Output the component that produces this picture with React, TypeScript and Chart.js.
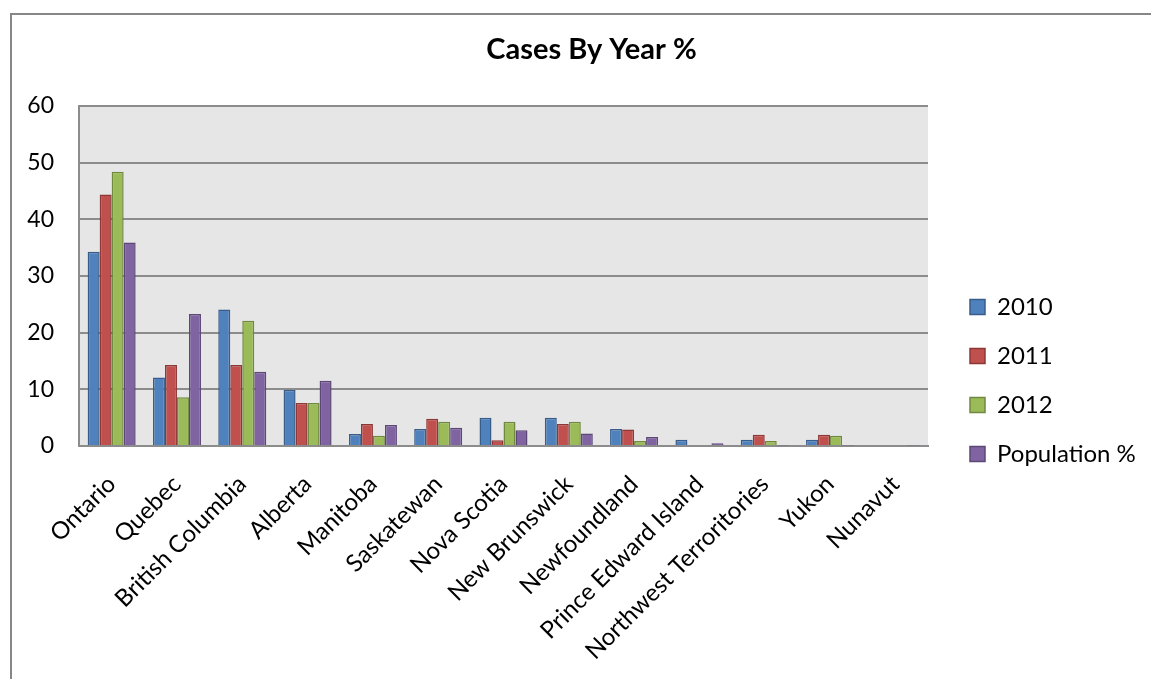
import React, { useEffect, useRef } from "react";
import { Chart, registerables } from "chart.js";

Chart.register(...registerables);

const categories = [
  "Ontario",
  "Quebec",
  "British Columbia",
  "Alberta",
  "Manitoba",
  "Saskatewan",
  "Nova Scotia",
  "New Brunswick",
  "Newfoundland",
  "Prince Edward Island",
  "Northwest Terroritories",
  "Yukon",
  "Nunavut",
];

const cases2010 = [34.3, 12.1, 24.1, 9.9, 2.1, 3.0, 5.0, 5.0, 3.0, 1.1, 1.1, 1.1, 0];
const cases2011 = [44.4, 14.3, 14.3, 7.6, 3.9, 4.8, 1.0, 3.9, 2.9, 0, 2.0, 2.0, 0];
const cases2012 = [48.4, 8.6, 22.1, 7.6, 1.8, 4.3, 4.3, 4.3, 0.9, 0, 0.9, 1.8, 0];
const population = [35.9, 23.3, 13.1, 11.5, 3.7, 3.2, 2.8, 2.2, 1.6, 0.5, 0.1, 0.1, 0.1];

const seriesLabels = ["2010", "2011", "2012", "Population %"];
const yTicks = [0, 10, 20, 30, 40, 50, 60];

const FONT = "Lato, 'Open Sans', sans-serif";
const CANVAS_W = 1183;
const CANVAS_H = 761;

export default function App() {
  const ref = useRef<HTMLCanvasElement | null>(null);

  useEffect(() => {
    if (!ref.current) return;
    const bgPlugin = {
      id: "plotBg",
      beforeDraw(chart: any) {
        const { ctx, chartArea } = chart;
        ctx.save();
        ctx.fillStyle = "#ffffff";
        ctx.fillRect(0, 0, chart.width, chart.height);
        ctx.fillStyle = "#e6e6e6";
        ctx.fillRect(chartArea.left, chartArea.top, chartArea.right - chartArea.left, chartArea.bottom - chartArea.top);
        ctx.restore();
      },
      beforeLayout(chart: any) {
        const lg = chart.legend;
        if (lg && !lg.__wrapped) {
          const orig = lg.fit;
          lg.fit = function () {
            orig.call(this);
            this.width = 238;
          };
          lg.__wrapped = true;
        }
      },
    };

    const chart = new Chart(ref.current, {
      type: "bar",
      data: {
        labels: categories,
        datasets: [
          { label: seriesLabels[0], data: cases2010, backgroundColor: "#4F81BD", borderColor: "#385D8A", borderWidth: 1.5 },
          { label: seriesLabels[1], data: cases2011, backgroundColor: "#C0504D", borderColor: "#8C3836", borderWidth: 1.5 },
          { label: seriesLabels[2], data: cases2012, backgroundColor: "#9BBB59", borderColor: "#71893F", borderWidth: 1.5 },
          { label: seriesLabels[3], data: population, backgroundColor: "#8064A2", borderColor: "#5C4776", borderWidth: 1.5 },
        ],
      },
      options: {
        responsive: false,
        maintainAspectRatio: false,
        animation: false,
        datasets: { bar: { barPercentage: 1, categoryPercentage: 0.735 } },
        layout: { padding: { left: 0, right: 0, top: 0, bottom: 0 } },
        plugins: {
          title: {
            display: true,
            text: "Cases By Year %",
            color: "#000",
            font: { family: FONT, size: 29, weight: "bold", lineHeight: 1.2 },
            padding: { top: 32.6, bottom: 38.6 },
          },
          legend: {
            display: true,
            position: "right",
            align: "center",
            labels: {
              color: "#000",
              font: { family: FONT, size: 24 },
              boxWidth: 15,
              boxHeight: 15,
              padding: 25,
            },
          },
          tooltip: { enabled: false },
        },
        scales: {
          x: {
            grid: { display: false },
            border: { display: true, color: "#8c8c8c", width: 2 },
            ticks: {
              autoSkip: false,
              minRotation: 45,
              maxRotation: 45,
              padding: 16,
              color: "#000",
              font: { family: FONT, size: 24 },
            },
            afterFit(scale: any) {
              scale.height = CANVAS_H - 446;
            },
          },
          y: {
            min: 0,
            max: 60,
            afterBuildTicks(scale: any) {
              scale.ticks = yTicks.map((v) => ({ value: v }));
            },
            grid: { color: "#8c8c8c", lineWidth: 2, drawTicks: false },
            border: { display: true, color: "#8c8c8c", width: 2 },
            ticks: {
              padding: 25,
              color: "#000",
              font: { family: FONT, size: 23 },
            },
            afterFit(scale: any) {
              scale.width = 79;
            },
          },
          yRight: {
            position: "right",
            display: true,
            grid: { display: false, drawTicks: false },
            border: { display: false },
            ticks: { display: false },
            afterFit(scale: any) {
              scale.width = 17;
            },
          },
        },
      },
      plugins: [bgPlugin],
    } as any);

    return () => chart.destroy();
  }, []);

  return (
    <div
      style={{
        position: "fixed",
        left: 0,
        top: 0,
        width: 1151,
        height: 679,
        overflow: "hidden",
        background: "#fff",
      }}
    >
      <canvas
        ref={ref}
        width={CANVAS_W}
        height={CANVAS_H}
        style={{ position: "absolute", left: 0, top: 0, width: CANVAS_W, height: CANVAS_H }}
      />
      <div
        style={{
          position: "absolute",
          left: 10,
          top: 13,
          width: 1300,
          height: 800,
          border: "2px solid #878787",
          pointerEvents: "none",
        }}
      />
    </div>
  );
}
